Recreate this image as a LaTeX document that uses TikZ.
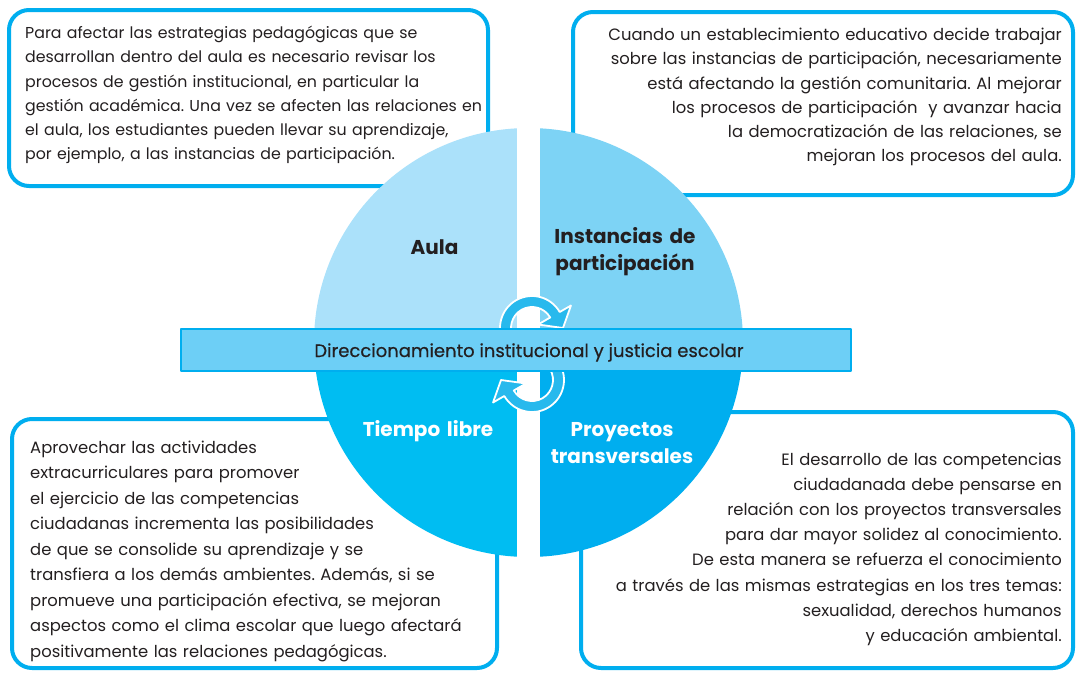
\documentclass[tikz,border=0pt]{standalone}
\usepackage{fontspec}
\setmainfont{Poppins}
\newfontfamily\barfont{Poppins}[FakeBold=0.5]
\frenchspacing
\definecolor{cyanline}{RGB}{0,174,239}
\definecolor{aulacol}{RGB}{171,225,250}
\definecolor{instcol}{RGB}{125,211,245}
\definecolor{tiempocol}{RGB}{0,189,242}
\definecolor{proycol}{RGB}{0,174,239}
\definecolor{barcol}{RGB}{109,207,246}
\definecolor{arrowcol}{RGB}{40,185,237}
\definecolor{inktext}{RGB}{35,31,32}
\begin{document}
\begin{tikzpicture}[x=1pt,y=1pt,line join=round,line cap=round]
	\tikzset{every node/.style={inner sep=0pt,text=inktext},
		infobox/.style={draw=cyanline,line width=4pt,rounded corners=20pt,fill=white},
		infotext/.style={font=\fontsize{16.4}{24.2}\selectfont,text width=520pt},
		quadlabel/.style={font=\fontsize{20}{27.5}\selectfont\bfseries,text width=200pt,align=center,anchor=base},
		barbox/.style={draw=cyanline,fill=barcol,line width=1.5pt,minimum width=670pt,minimum height=42pt},
		cyclearrow/.style={fill=arrowcol,draw=white,line width=1.8pt}}
	\useasboundingbox (0,0) rectangle (1076,-672);
	% recuadros
	\draw[infobox] (9,-10) rectangle (488,-186);
	\draw[infobox] (573,-12) rectangle (1073,-195);
	\draw[infobox] (12,-419) rectangle (497,-668);
	\draw[infobox] (581,-412) rectangle (1073,-668);
	% circulo
	\begin{scope}
		\clip (528.5,-342.5) circle (214.5pt);
		\fill[aulacol] (300,-100) rectangle (517,-350);
		\fill[instcol] (540,-100) rectangle (760,-350);
		\fill[tiempocol] (300,-350) rectangle (517,-600);
		\fill[proycol] (540,-350) rectangle (760,-600);
	\end{scope}
	\foreach \cy/\rot in {-328/0,-380/180}
	\filldraw[cyclearrow,shift={(532,\cy)},rotate=\rot] (210:32) arc[start angle=210,end angle=30,radius=32] -- (30:45) -- (0:31) -- (30:7) -- (30:21) arc[start angle=30,end angle=210,radius=21] -- cycle;
	\node[barbox] (bar) at (516,-350) {};
	\node[font=\barfont\fontsize{18}{18}\selectfont,anchor=base] (dirtext) at (529,-357) {Direccionamiento institucional y justicia escolar};
	% etiquetas
	\node[quadlabel] (aula) at (434.5,-254) {Aula};
	\node[quadlabel] (instancias) at (625,-243) {Instancias de\\participación};
	\node[quadlabel,text=white] (tiempo) at (428,-436) {Tiempo libre};
	\node[quadlabel,text=white] (proyectos) at (622,-436) {Proyectos\\transversales};
	% textos
	\node[infotext,font=\fontsize{15.8}{24.2}\selectfont,anchor=base west,align=left] (aulatext) at (25,-38.6) {Para afectar las estrategias pedagógicas que se\\desarrollan dentro del aula es necesario revisar los\\procesos de gestión institucional, en particular la\\gestión académica. Una vez se afecten las relaciones en\\el aula, los estudiantes pueden llevar su aprendizaje,\\por ejemplo, a las instancias de participación.};
	\node[infotext,anchor=base east,align=right] (insttext) at (1062,-40.7) {Cuando un establecimiento educativo decide trabajar\\sobre las instancias de participación, necesariamente\\está afectando la gestión comunitaria. Al mejorar\\los procesos de participación~ y avanzar hacia\\la democratización de las relaciones, se\\mejoran los procesos del aula.};
	\node[infotext,font=\fontsize{16.4}{25.5}\selectfont,anchor=base west,align=left] (tiempotext) at (30,-453) {Aprovechar las actividades\\extracurriculares para promover\\el ejercicio de las competencias\\ciudadanas incrementa las posibilidades\\de que se consolide su aprendizaje y se\\transfiera a los demás ambientes. Además, si se\\promueve una participación efectiva, se mejoran\\aspectos como el clima escolar que luego afectará\\positivamente las relaciones pedagógicas.};
	\node[infotext,font=\fontsize{16.4}{25.1}\selectfont,anchor=base east,align=right] (proytext) at (1062,-465.5) {El desarrollo de las competencias\\ciudadanada debe pensarse en\\relación con los proyectos transversales\\para dar mayor solidez al conocimiento.\\De esta manera se refuerza el conocimiento\\a través de las mismas estrategias en los tres temas:\\sexualidad, derechos humanos\\y educación ambiental.};
\end{tikzpicture}
\end{document}
